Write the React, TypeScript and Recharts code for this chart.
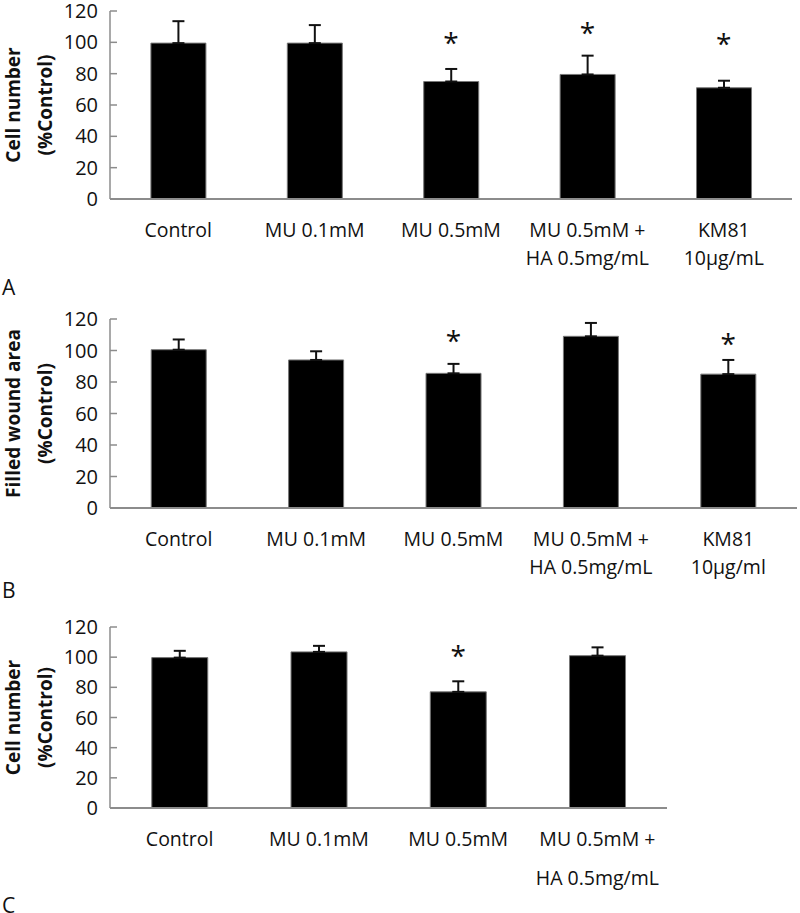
import React from "react";
import { ComposedChart, Bar, Line, ErrorBar, XAxis, YAxis } from "recharts";

// panel A
const catsA = ["Control", "MU 0.1mM", "MU 0.5mM", "MU 0.5mM +\nHA 0.5mg/mL", "KM81\n10μg/mL"];
const valsA = [99.5, 99.5, 75, 79.5, 71];
const errsA = [14, 11.5, 8, 12, 4.5];
const starsA = [null, null, 103, 109, 102];

// panel B
const catsB = ["Control", "MU 0.1mM", "MU 0.5mM", "MU 0.5mM +\nHA 0.5mg/mL", "KM81\n10μg/ml"];
const valsB = [100.5, 94, 85.5, 109, 85];
const errsB = [6.5, 5.5, 6, 8.5, 9];
const starsB = [null, null, 109, null, 107];

// panel C
const catsC = ["Control", "MU 0.1mM", "MU 0.5mM", "MU 0.5mM +\nHA 0.5mg/mL"];
const valsC = [99.7, 103.5, 77, 101];
const errsC = [4.5, 4, 7, 5.5];
const starsC = [null, null, 104, null];

const yTicks = [0, 20, 40, 60, 80, 100, 120];

const FONT = "'Open Sans', sans-serif";
const AXIS = "#8c8c8c";

const build = (cats: string[], vals: number[], errs: number[], stars: (number | null)[]) =>
  cats.map((c, i) => ({ name: c, value: vals[i], err: [0, errs[i]], star: stars[i] }));

const makeTick = (lineGap: number) => (props: any) => {
  const { x, y, payload } = props;
  const lines = String(payload.value).split("\n");
  return (
    <g>
      {lines.map((l, i) => (
        <text key={i} x={x} y={y + 30 + i * lineGap} textAnchor="middle" dominantBaseline="central"
          fontFamily={FONT} fontSize={19.5} fill="#111">{l}</text>
      ))}
    </g>
  );
};

const makeYLabel = (l1: string, l2: string) => (props: any) => {
  const { viewBox } = props;
  const cy = viewBox.y + viewBox.height / 2;
  return (
    <g>
      <text x={13} y={cy} transform={`rotate(-90 13 ${cy})`} textAnchor="middle" dominantBaseline="central"
        fontFamily={FONT} fontWeight="bold" fontSize={19} fill="#111">{l1}</text>
      <text x={45} y={cy} transform={`rotate(-90 45 ${cy})`} textAnchor="middle" dominantBaseline="central"
        fontFamily={FONT} fontWeight="bold" fontSize={19} fill="#111">{l2}</text>
    </g>
  );
};

const starDot = (props: any) => {
  const { cx, cy, payload, index } = props;
  if (payload.star == null || cy == null) return <g key={index} />;
  return (
    <text key={index} x={cx} y={cy + 15} textAnchor="middle" fontFamily={FONT} fontSize={28} fill="#111">*</text>
  );
};

interface PanelProps {
  data: any[];
  width: number;
  height: number;
  top: number;
  bottom: number;
  lineGap: number;
  l1: string;
  l2: string;
}

const Panel = ({ data, width, height, top, bottom, lineGap, l1, l2 }: PanelProps) => (
  <ComposedChart width={width} height={height} data={data} barCategoryGap="30%"
    margin={{ top, right: 0, bottom: 0, left: 0 }}>
    <XAxis dataKey="name" interval={0} tickLine={false} tickSize={0} tickMargin={0}
      height={height - bottom} tick={makeTick(lineGap)} axisLine={{ stroke: AXIS, strokeWidth: 2 }} />
    <YAxis width={110} domain={[0, 120]} ticks={yTicks} interval={0} tickSize={-7} tickMargin={19}
      axisLine={{ stroke: AXIS, strokeWidth: 1.5 }} tickLine={{ stroke: AXIS, strokeWidth: 1.5 }}
      tick={{ fontFamily: FONT, fontSize: 20, fill: "#111" }}
      label={{ content: makeYLabel(l1, l2) }} />
    <Bar dataKey="value" fill="#000" stroke="#777" strokeWidth={1} isAnimationActive={false}>
      <ErrorBar dataKey="err" width={6} stroke="#111" strokeWidth={2} direction="y" />
    </Bar>
    <Line dataKey="star" stroke="none" dot={starDot} activeDot={false} isAnimationActive={false}
      legendType="none" connectNulls={false} />
  </ComposedChart>
);

const letterStyle: React.CSSProperties = {
  position: "absolute", left: 2, fontFamily: FONT, fontSize: 21, color: "#111", lineHeight: "24px",
};

export default function App() {
  return (
    <div style={{ position: "absolute", left: 0, top: 0, width: 800, height: 913, background: "#fff", overflow: "hidden" }}>
      <div style={{ position: "absolute", left: 0, top: 0 }}>
        <Panel data={build(catsA, valsA, errsA, starsA)} width={792} height={300} top={11} bottom={199}
          lineGap={28} l1="Cell number" l2="(%Control)" />
      </div>
      <div style={letterStyle}><span style={{ position: "absolute", top: 275 }}>A</span></div>
      <div style={{ position: "absolute", left: 0, top: 300 }}>
        <Panel data={build(catsB, valsB, errsB, starsB)} width={797} height={300} top={19} bottom={208}
          lineGap={28} l1="Filled wound area" l2="(%Control)" />
      </div>
      <div style={letterStyle}><span style={{ position: "absolute", top: 578 }}>B</span></div>
      <div style={{ position: "absolute", left: 0, top: 600 }}>
        <Panel data={build(catsC, valsC, errsC, starsC)} width={667} height={313} top={27} bottom={208}
          lineGap={39} l1="Cell number" l2="(%Control)" />
      </div>
      <div style={letterStyle}><span style={{ position: "absolute", top: 893 }}>C</span></div>
    </div>
  );
}
